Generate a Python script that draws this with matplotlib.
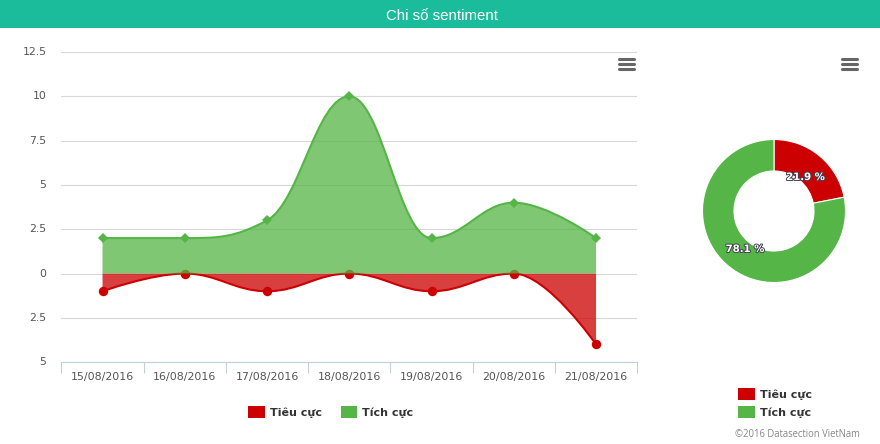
import matplotlib
matplotlib.use("Agg")
import matplotlib.pyplot as plt
import matplotlib.patheffects as pe
from matplotlib.path import Path
from matplotlib.patches import PathPatch, Rectangle

dates = ["15/08/2016", "16/08/2016", "17/08/2016", "18/08/2016",
         "19/08/2016", "20/08/2016", "21/08/2016"]
positive = [2, 2, 3, 10, 2, 4, 2]
negative = [-1, 0, -1, 0, -1, 0, -4]
y_ticks = [-5, -2.5, 0, 2.5, 5, 7.5, 10, 12.5]
y_labels = ["5", "2.5", "0", "2.5", "5", "7.5", "10", "12.5"]
share_names = ["Tiêu cực", "Tích cực"]
share_values = [21.9, 78.1]
share_labels = ["21.9 %", "78.1 %"]
title = "Chi số sentiment"
credit = "©2016 Datasection VietNam"

RED = "#CC0000"
GREEN = "#55B546"
TEAL = "#1ABC9C"
W, H = 880, 444


def spline_path(ys):
    """Monotone-at-extrema cubic through the data, as Highcharts' spline."""
    n = len(ys)
    verts = [(0, ys[0])]
    codes = [Path.MOVETO]
    conts = []
    for i in range(n):
        if i == 0 or i == n - 1:
            conts.append((i, ys[i], i, ys[i]))
            continue
        y, ly, ny = ys[i], ys[i - 1], ys[i + 1]
        lx = (1.5 * i + (i - 1)) / 2.5
        rx = (1.5 * i + (i + 1)) / 2.5
        lc = (1.5 * y + ly) / 2.5
        rc = (1.5 * y + ny) / 2.5
        corr = (rc - lc) * (rx - i) / (rx - lx) + y - rc
        lc += corr
        rc += corr
        if lc > ly and lc > y:
            lc = max(ly, y)
            rc = 2 * y - lc
        elif lc < ly and lc < y:
            lc = min(ly, y)
            rc = 2 * y - lc
        if rc > ny and rc > y:
            rc = max(ny, y)
            lc = 2 * y - rc
        elif rc < ny and rc < y:
            rc = min(ny, y)
            lc = 2 * y - rc
        conts.append((lx, lc, rx, rc))
    for i in range(1, n):
        verts += [(conts[i - 1][2], conts[i - 1][3]),
                  (conts[i][0], conts[i][1]), (i, ys[i])]
        codes += [Path.CURVE4] * 3
    return verts, codes


def draw_series(ax, ys, color, marker, ms, z):
    verts, codes = spline_path(ys)
    area_v = verts + [(len(ys) - 1, 0), (0, 0), (0, ys[0])]
    area_c = codes + [Path.LINETO, Path.LINETO, Path.CLOSEPOLY]
    ax.add_patch(PathPatch(Path(area_v, area_c), facecolor=color, edgecolor="none",
                           alpha=0.75, zorder=z))
    ax.add_patch(PathPatch(Path(verts, codes), facecolor="none", edgecolor=color,
                           lw=1.5, zorder=z + 0.1, capstyle="round"))
    ax.plot(range(len(ys)), ys, ls="none", marker=marker, ms=ms, color=color,
            mew=0, zorder=z + 0.2, clip_on=False)


fig = plt.figure(figsize=(W / 100, H / 100), dpi=100, facecolor="white")

# page furniture in pixel coordinates
bg = fig.add_axes([0, 0, 1, 1], zorder=0)
bg.set_xlim(0, W)
bg.set_ylim(H, 0)
bg.axis("off")
bg.add_patch(Rectangle((0, 0), W, 28, fc=TEAL, ec="none"))
bg.text(441.5, 15.5, title, color="white", fontsize=10.8, family="Liberation Sans",
        ha="center", va="center")

# area chart
left, right, top, bottom = 61.4, 637.2, 52.1, 362.1
ax = fig.add_axes([left / W, 1 - bottom / H, (right - left) / W, (bottom - top) / H], zorder=1)
ax.patch.set_alpha(0)
ax.set_xlim(-0.5, 6.5)
ax.set_ylim(-5, 12.5)
for s in ("top", "left", "right"):
    ax.spines[s].set_visible(False)
ax.spines["bottom"].set_color("#C0D0E0")
ax.spines["bottom"].set_linewidth(0.8)
ax.set_yticks(y_ticks, y_labels)
ax.set_xticks(range(len(dates)), dates)
ax.set_xticks([i - 0.5 for i in range(len(dates) + 1)], minor=True)
ax.tick_params(axis="y", length=0, pad=10.8, labelsize=7.8, labelcolor="#555555")
ax.tick_params(axis="x", which="major", length=0, pad=7.2, labelsize=7.9, labelcolor="#555555")
ax.tick_params(axis="x", which="minor", length=8, width=0.8, color="#C0D0E0")
for lab in ax.get_xticklabels() + ax.get_yticklabels():
    lab.set_family("DejaVu Sans")
for lab in ax.get_yticklabels():
    lab.set_verticalalignment("center")
ax.grid(axis="y", color="#D8D8D8", lw=0.8, zorder=0)
ax.set_axisbelow(True)
draw_series(ax, negative, RED, "o", 6.8, 2)
draw_series(ax, positive, GREEN, "D", 4.6, 3)

# donut
cx, cy, r = 774, 211, 71.5
dn = fig.add_axes([(cx - r) / W, 1 - (cy + r) / H, 2 * r / W, 2 * r / H], zorder=1)
dn.pie(share_values, colors=[RED, GREEN], startangle=90, counterclock=False, radius=1,
       wedgeprops=dict(width=1 - 40 / 71.5, edgecolor="white", linewidth=0.8))
dn.set_xlim(-1, 1)
dn.set_ylim(-1, 1)
for w in dn.patches:
    w.set_clip_on(False)

# overlay: labels, legends, menus
top_ax = fig.add_axes([0, 0, 1, 1], zorder=2)
top_ax.patch.set_alpha(0)
top_ax.set_xlim(0, W)
top_ax.set_ylim(H, 0)
top_ax.axis("off")
for (x, y), s in zip([(805.5, 177), (745, 249)], share_labels):
    top_ax.text(x, y, s, color="white", fontsize=7.3, fontweight="bold", family="DejaVu Sans",
                ha="center", va="center",
                path_effects=[pe.withStroke(linewidth=1.4, foreground="#444455")])


def legend_item(x, y, color, label):
    top_ax.add_patch(Rectangle((x, y - 6), 16.5, 12, fc=color, ec="none"))
    top_ax.text(x + 22, y + 0.7, label, color="#333333", fontsize=8, fontweight="bold",
                family="DejaVu Sans", ha="left", va="center")


legend_item(248, 412, RED, share_names[0])
legend_item(340.5, 412, GREEN, share_names[1])
legend_item(738, 394, RED, share_names[0])
legend_item(738, 412, GREEN, share_names[1])

for x0 in (617.5, 840.5):
    for y0 in (59.5, 64.5, 69.5):
        top_ax.plot([x0 + 1, x0 + 16], [y0, y0], color="#666666", lw=2.2,
                    solid_capstyle="round")

top_ax.text(860, 434.5, credit, color="#888888", fontsize=6.85, family="Open Sans",
            ha="right", va="center")

fig.savefig("out.png", dpi=100, facecolor="white")
